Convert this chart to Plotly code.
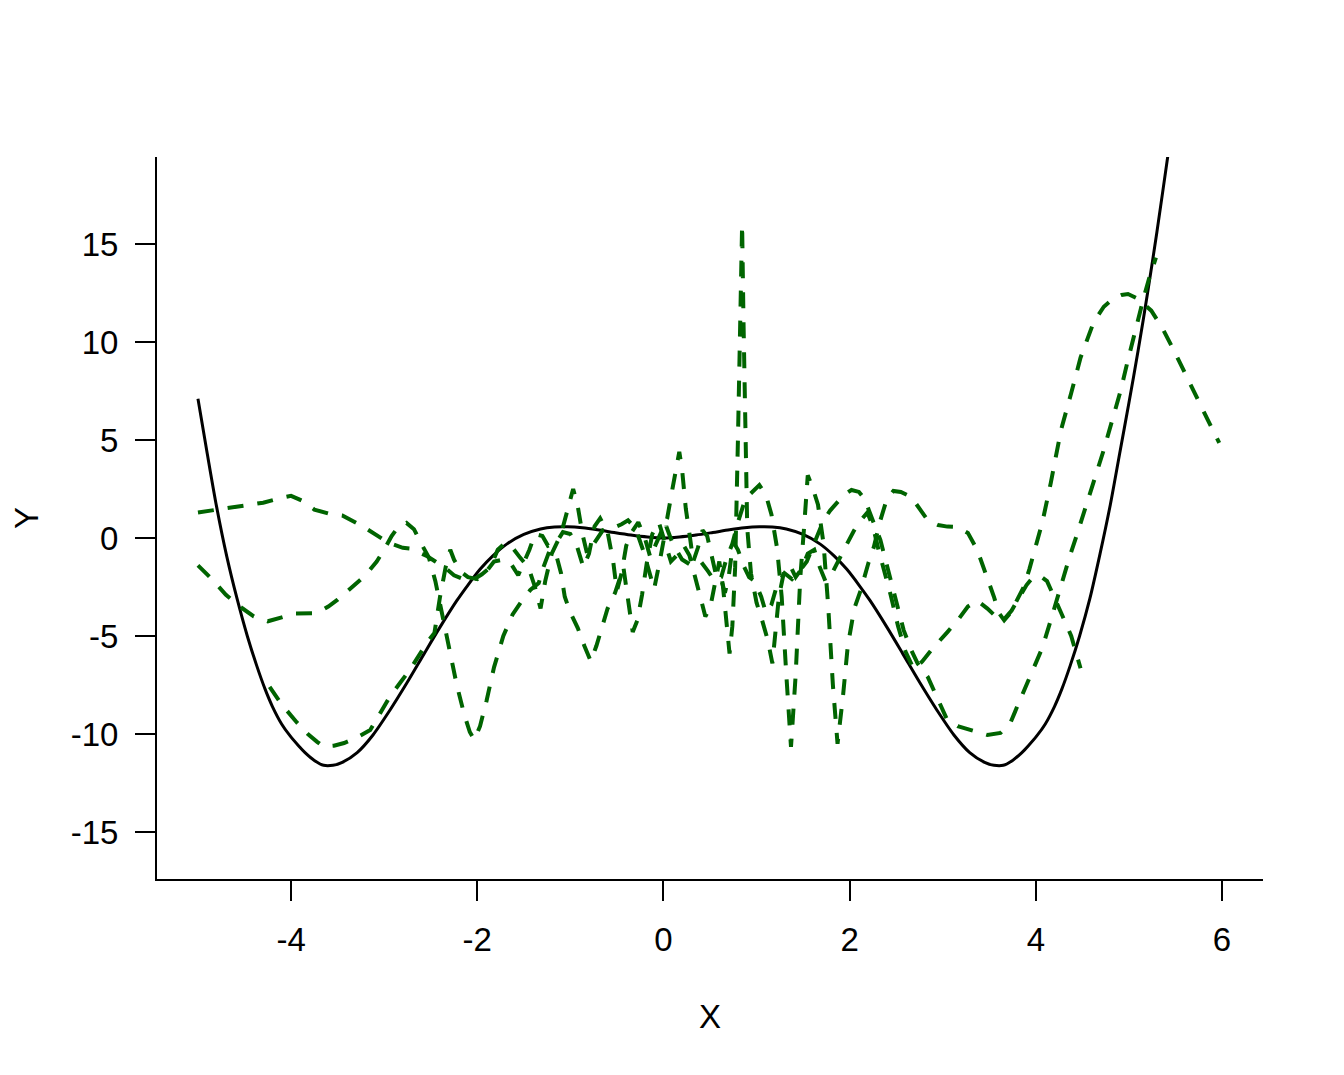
import plotly.graph_objects as go

# ---- data ----
black_x = [-5.0, -4.9, -4.8, -4.69, -4.58, -4.47, -4.37, -4.28, -4.2, -4.1, -4.01, -3.92, -3.85, -3.75,
           -3.65, -3.55, -3.45, -3.29, -3.12, -2.94, -2.75, -2.57, -2.4, -2.22, -2.1, -1.97, -1.83,
           -1.68, -1.5, -1.32, -1.17, -1.03, -0.87, -0.71, -0.53, -0.35, -0.17, 0.0, 0.17, 0.35, 0.53,
           0.71, 0.87, 1.03, 1.17, 1.32, 1.5, 1.68, 1.83, 1.97, 2.1, 2.22, 2.4, 2.57, 2.75, 2.94, 3.12,
           3.29, 3.45, 3.55, 3.65, 3.75, 3.85, 3.92, 4.01, 4.1, 4.2, 4.28, 4.37, 4.47, 4.58, 4.69, 4.8,
           4.9, 5.0, 5.1, 5.2, 5.3, 5.43, 5.5]
black_y = [7.1, 4.3, 1.6, -0.95, -3.1, -5.0, -6.5, -7.7, -8.6, -9.5, -10.1, -10.6, -10.95, -11.35,
           -11.6, -11.6, -11.45, -10.95, -10.05, -8.8, -7.35, -5.9, -4.55, -3.2, -2.4, -1.6, -0.9,
           -0.3, 0.18, 0.46, 0.56, 0.57, 0.52, 0.42, 0.28, 0.15, 0.05, 0.0, 0.05, 0.15, 0.28,
           0.42, 0.52, 0.57, 0.56, 0.46, 0.18, -0.3, -0.9, -1.6, -2.4, -3.2, -4.55, -5.9, -7.35, -8.8, -10.05,
           -10.95, -11.45, -11.6, -11.6, -11.35, -10.95, -10.6, -10.1, -9.5, -8.6, -7.7, -6.5, -5.0, -3.1, -0.8, 1.7,
           4.3, 6.9, 9.6, 12.5, 15.6, 19.9, 22.2]

a_x = [-5.0, -4.6, -4.3, -4.1, -4.0, -3.88, -3.75, -3.6, -3.45, -3.25, -3.1, -2.95, -2.8, -2.7, -2.62,
       -2.55, -2.45, -2.35, -2.25, -2.15, -2.05, -1.95, -1.86, -1.78, -1.7, -1.62, -1.54, -1.45, -1.38,
       -1.32, -1.27, -1.2, -1.1, -1.03, -0.97, -0.92, -0.87, -0.82, -0.74, -0.65, -0.55, -0.45, -0.38,
       -0.3, -0.22, -0.15, -0.1, -0.04, 0.03, 0.1, 0.2, 0.3, 0.4, 0.48, 0.55, 0.62, 0.68, 0.74, 0.8,
       0.88, 0.96, 1.03, 1.1, 1.16, 1.22, 1.27, 1.32, 1.37, 1.42, 1.47, 1.51, 1.55, 1.6, 1.66, 1.72,
       1.77, 1.82, 1.87, 1.93, 1.98, 2.05, 2.12, 2.2, 2.26, 2.33, 2.4, 2.47, 2.55, 2.66, 2.76, 2.84,
       2.95, 3.05, 3.16, 3.27, 3.37, 3.48, 3.55, 3.6, 3.66, 3.73, 3.8, 3.87, 3.93, 3.98, 4.07, 4.16,
       4.27, 4.38, 4.48, 4.62, 4.73, 4.84, 4.92, 4.99, 5.1, 5.24, 5.36, 5.48, 5.62, 5.74, 5.86, 5.97]
a_y = [1.3, 1.6, 1.8, 2.05, 2.15, 1.9, 1.45, 1.25, 1.15, 0.65, 0.2, -0.25, -0.5, -0.55, -0.75,
       -0.9, -1.2, -1.5, -1.9, -2.1, -2.15, -1.85, -1.5, -0.6, -0.25, -0.5, -1.0, -1.5, -2.5,
       -3.6, -2.2, -0.8, 0.2, 1.4, 2.5, 1.6, 0.2, -0.8, -0.2, 0.4, 0.5, 0.7, 0.9,
       0.5, -0.6, -1.8, -2.6, -1.2, 0.6, -0.3, -1.1, -1.4, -1.2, -1.7, -2.2, -2.0, -1.0, -0.3, 0.8,
       2.0, 2.4, 2.7, 2.2, 1.2, -0.5, -3.0, -7.0, -10.66, -7.0, -2.0, 0.5, 3.2, 2.6, 1.7, -0.3,
       -3.5, -7.5, -10.5, -8.0, -5.5, -3.6, -2.65, -1.3, -0.46, 0.9, 2.0, 2.4, 2.35, 2.1, 1.4, 0.9,
       0.66, 0.58, 0.56, 0.26, -0.6, -2.0, -3.0, -3.8, -4.2, -3.8, -3.2, -2.5, -1.6, -0.8, 0.8, 2.8,
       5.5, 7.4, 9.2, 11.0, 11.8, 12.25, 12.4, 12.45, 12.2, 11.6, 10.7, 9.6, 8.2, 7.0, 5.9, 4.85]

b_x = [-5.0, -4.85, -4.7, -4.55, -4.4, -4.25, -4.1, -3.95, -3.72, -3.6, -3.5, -3.35, -3.2, -3.08, -3.0,
       -2.92, -2.85, -2.76, -2.68, -2.6, -2.52, -2.45, -2.38, -2.3, -2.22, -2.14, -2.08, -2.03, -1.97,
       -1.9, -1.82, -1.72, -1.62, -1.52, -1.43, -1.34, -1.29, -1.22, -1.15, -1.1, -1.06, -1.0, -0.92,
       -0.85, -0.78, -0.72, -0.66, -0.6, -0.52, -0.47, -0.43, -0.4, -0.36, -0.33, -0.28, -0.23, -0.18,
       -0.12, -0.05, 0.02, 0.08, 0.14, 0.22, 0.28, 0.34, 0.4, 0.45, 0.5, 0.55, 0.6, 0.64, 0.68, 0.71,
       0.74, 0.77, 0.8, 0.83, 0.845, 0.86, 0.88, 0.9, 0.94, 1.0, 1.06, 1.12, 1.17, 1.2, 1.24, 1.3,
       1.36, 1.42, 1.48, 1.55, 1.62, 1.68, 1.74, 1.8, 1.88, 1.96, 2.05, 2.12, 2.19, 2.25, 2.31, 2.37,
       2.44, 2.52, 2.6, 2.69, 2.78, 2.88, 2.98, 3.05, 3.16, 3.27, 3.37, 3.48, 3.58, 3.66, 3.74, 3.82,
       3.9, 3.97, 4.05, 4.12, 4.19, 4.27, 4.38, 4.48]
b_y = [-1.4, -2.1, -2.9, -3.5, -4.0, -4.25, -4.05, -3.85, -3.83, -3.5, -3.15, -2.5, -1.9, -1.2, -0.6,
       0.1, 0.55, 0.77, 0.45, -0.3, -1.0, -2.2, -3.8, -5.6, -7.5, -9.0, -9.9, -10.3, -9.6,
       -8.3, -6.6, -5.0, -3.9, -3.2, -2.65, -2.3, -1.5, -0.6, -0.9, -1.8, -3.0, -3.8, -4.6,
       -5.5, -6.3, -5.5, -4.6, -3.6, -2.8, -2.0, -1.5, -2.5, -3.8, -4.8, -4.2, -2.9, -1.3,
       0.2, 0.8, -0.3, -1.2, -0.9, -0.4, -0.9, -2.0, -3.2, -4.0, -3.6, -2.3, -1.2, -2.5, -4.6, -5.9,
       -4.5, -1.5, 5.0, 12.0, 16.0, 11.0, 5.0, 0.5, -1.8, -3.3, -4.2, -5.2, -6.4, -5.0, -3.0, -1.6,
       -1.4, -2.0, -1.6, -0.8, -0.6, -1.5, -2.2, -1.9, -1.2, -0.4, 0.4, 0.9, 1.3, 0.6, -0.6, -1.6,
       -2.9, -4.5, -5.8, -6.7, -6.3, -5.7, -5.2, -4.8, -4.2, -3.5, -3.2, -3.6, -4.05, -4.15, -3.7, -3.0,
       -2.4, -2.0, -1.95, -2.2, -3.0, -3.8, -5.0, -6.65]

c_x = [-4.23, -4.1, -3.94, -3.82, -3.72, -3.65, -3.54, -3.43, -3.3, -3.15, -3.05, -2.94, -2.83, -2.72,
       -2.6, -2.52, -2.46, -2.4, -2.34, -2.29, -2.25, -2.18, -2.1, -2.0, -1.9, -1.82, -1.72, -1.64,
       -1.56, -1.5, -1.44, -1.38, -1.3, -1.24, -1.16, -1.08, -1.0, -0.93, -0.86, -0.8, -0.74, -0.68,
       -0.6, -0.54, -0.5, -0.45, -0.4, -0.34, -0.27, -0.2, -0.14, -0.08, -0.02, 0.04, 0.1, 0.14, 0.17,
       0.2, 0.24, 0.28, 0.32, 0.37, 0.42, 0.47, 0.52, 0.57, 0.62, 0.66, 0.7, 0.75, 0.8, 0.86, 0.92,
       0.98, 1.05, 1.1, 1.16, 1.22, 1.3, 1.38, 1.46, 1.54, 1.6, 1.66, 1.72, 1.79, 1.86, 1.94, 2.02,
       2.1, 2.16, 2.22, 2.28, 2.33, 2.41, 2.51, 2.58, 2.66, 2.73, 2.84, 2.95, 3.05, 3.16, 3.27, 3.37,
       3.48, 3.62, 3.73, 3.8, 3.87, 3.98, 4.07, 4.16, 4.27, 4.36, 4.45, 4.54, 4.62, 4.73, 4.82, 4.91,
       4.98, 5.05, 5.1, 5.16, 5.22, 5.29]
c_y = [-7.6, -8.5, -9.4, -10.0, -10.4, -10.65, -10.6, -10.46, -10.2, -9.8, -9.0, -8.1, -7.4, -6.7,
       -5.8, -5.2, -4.85, -3.0, -1.5, -0.6, -1.1, -1.7, -2.0, -2.1, -1.7, -1.2, -1.1, -1.3,
       -1.9, -1.3, -0.6, 0.2, 0.1, -0.4, -0.3, 0.3, 0.2, -0.4, -1.5, -0.8, 0.6, 1.0,
       0.3, -1.2, -2.7, -1.8, -0.4, 0.3, 0.8, 0.0, -1.0, -0.3, 0.4, 1.0, 2.6, 3.8, 4.4,
       3.5, 1.5, 0.2, -1.2, -0.5, 0.4, 0.1, -1.0, -2.0, -2.1, -2.8, -2.0, -0.2, -0.6, -1.4, -2.0,
       -2.2, -3.0, -3.8, -3.4, -2.4, -1.8, -2.1, -1.7, -1.2, -0.5, 0.2, 0.9, 1.4, 1.8, 2.2, 2.45,
       2.35, 2.0, 1.2, 0.5, -0.1, -1.6, -3.3, -4.7, -5.7, -6.4, -7.1, -8.3, -9.3, -9.6, -9.75, -9.9,
       -10.05, -9.95, -9.4, -8.6, -7.8, -6.6, -5.6, -4.2, -2.4, -1.0, 0.3, 1.6, 2.9, 4.5, 6.0, 7.5,
       8.9, 10.3, 11.3, 12.3, 13.3, 14.3]

x_ticks = [-4, -2, 0, 2, 4, 6]
x_tick_labels = ["-4", "-2", "0", "2", "4", "6"]
y_ticks = [-15, -10, -5, 0, 5, 10, 15]
y_tick_labels = ["-15", "-10", "-5", "0", "5", "10", "15"]

GREEN = "#006400"
FONT = "Liberation Sans, Arial, Helvetica, sans-serif"

fig = go.Figure()
fig.add_trace(go.Scatter(x=black_x, y=black_y, mode="lines",
                         line=dict(color="black", width=3, shape="spline", smoothing=0.8)))
for xs, ys in [(a_x, a_y), (b_x, b_y), (c_x, c_y)]:
    fig.add_trace(go.Scatter(x=xs, y=ys, mode="lines",
                             line=dict(color=GREEN, width=4, dash="16px,14px")))

axis_common = dict(showgrid=False, zeroline=False, showline=True, linecolor="black", linewidth=2,
                   ticks="outside", ticklen=20, tickwidth=2, tickcolor="black",
                   ticklabelstandoff=10, automargin=False,
                   tickfont=dict(family=FONT, size=33, color="black"))

# the page body adds an 8px offset, so margins are shifted to compensate
fig.update_layout(
    width=1344, height=1075,
    margin=dict(l=149, r=89, t=149, b=204),
    plot_bgcolor="white", paper_bgcolor="white",
    showlegend=False,
    font=dict(family=FONT, size=33, color="black"),
    xaxis=dict(range=[-5.44, 6.44], tickvals=x_ticks, ticktext=x_tick_labels,
               title=dict(text="X", font=dict(family=FONT, size=33), standoff=48),
               **axis_common),
    yaxis=dict(range=[-17.40, 19.44], tickvals=y_ticks, ticktext=y_tick_labels,
               title=dict(text="Y", font=dict(family=FONT, size=33), standoff=38),
               **axis_common),
)

fig.write_html("out.html")
